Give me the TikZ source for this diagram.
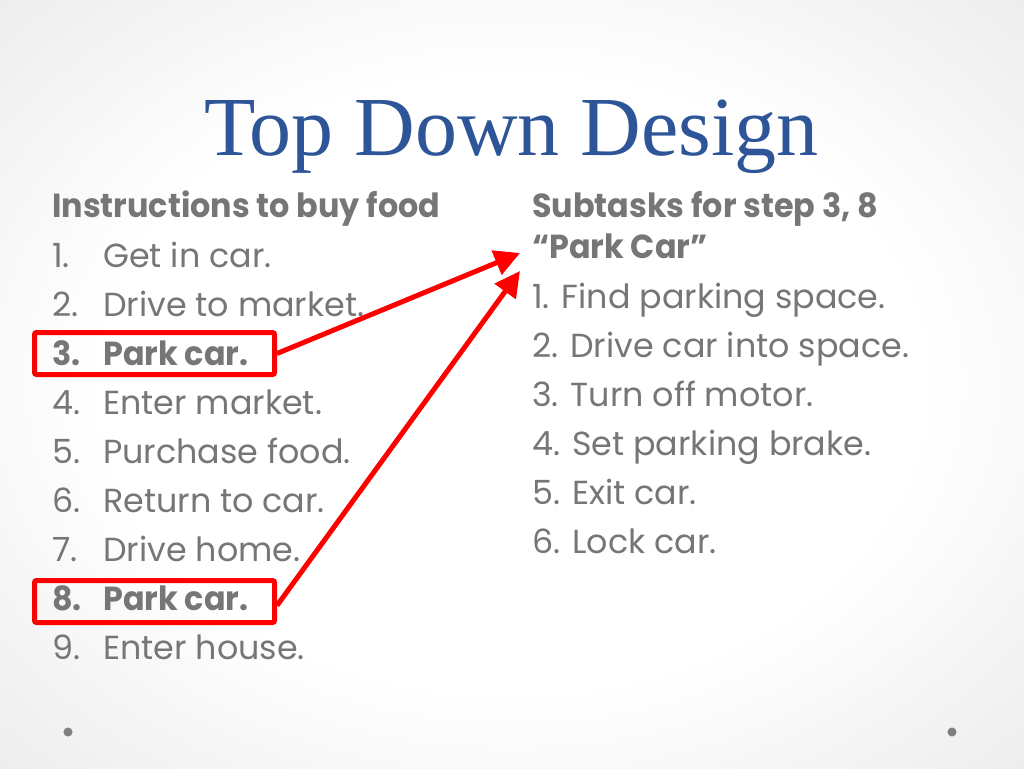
\documentclass[tikz,border=0pt]{standalone}
\usepackage{fontspec}
\setmainfont{Liberation Serif}
\newfontfamily\bodyfont[BoldFeatures={FakeStretch=0.955}]{Poppins}
\usetikzlibrary{arrows.meta}
\definecolor{titleblue}{HTML}{2E5597}
\definecolor{bodygray}{HTML}{767676}
\definecolor{arrowred}{HTML}{FF0000}
\definecolor{bggray}{HTML}{DCDCDC}
\definecolor{dotgray}{HTML}{7F7F7F}
\pgfdeclareradialshading{slidebg}{\pgfpoint{0bp}{0bp}}{color(0bp)=(white); color(20bp)=(white); color(50bp)=(bggray)}
\tikzset{
  bodytext/.style={font=\bodyfont\fontsize{25}{29}\selectfont, text=bodygray, anchor=base west, inner sep=0pt},
  headtext/.style={font=\bodyfont\bfseries\fontsize{25}{29}\selectfont, text=bodygray, anchor=base west, inner sep=0pt},
  titletext/.style={font=\fontsize{63}{70}\selectfont, text=titleblue, anchor=base, inner sep=0pt},
  redbox/.style={draw=arrowred, line width=3.75pt, rounded corners=1.5pt, minimum width=180pt, minimum height=31.5pt, inner sep=0pt},
  redarrow/.style={draw=arrowred, line width=3.75pt, -{Triangle[length=19pt,width=19pt]}}
}
\begin{document}
\begin{tikzpicture}[x=0.75pt,y=-0.75pt]
\useasboundingbox (0,0) rectangle (1024,768);
\shade[shading=slidebg] (0,0) rectangle (1024,768);
% title
\node[titletext] (title) at (511.5,155) {Top Down Design};
% left column
\node[headtext] (lhead) at (52,217) {Instructions to buy food};
\node[bodytext] (ln1) at (52,267) {1.};  \node[bodytext] (lt1) at (103,267) {Get in car.};
\node[bodytext] (ln2) at (52,316) {2.};  \node[bodytext] (lt2) at (103,316) {Drive to market.};
\node[headtext] (ln3) at (52,365) {3.};  \node[headtext] (lt3) at (103,365) {Park car.};
\node[bodytext] (ln4) at (52,414) {4.};  \node[bodytext] (lt4) at (103,414) {Enter market.};
\node[bodytext] (ln5) at (52,463) {5.};  \node[bodytext] (lt5) at (103,463) {Purchase food.};
\node[bodytext] (ln6) at (52,512) {6.};  \node[bodytext] (lt6) at (103,512) {Return to car.};
\node[bodytext] (ln7) at (52,561) {7.};  \node[bodytext] (lt7) at (103,561) {Drive home.};
\node[headtext] (ln8) at (52,610) {8.};  \node[headtext] (lt8) at (103,610) {Park car.};
\node[bodytext] (ln9) at (52,659) {9.};  \node[bodytext] (lt9) at (103,659) {Enter house.};
% right column
\node[headtext] (rhead1) at (532,217) {Subtasks for step 3, 8};
\node[headtext] (rhead2) at (532,258) {“Park Car”};
\node[bodytext] (r1) at (532,308) {1. Find parking space.};
\node[bodytext] (r2) at (532,357) {2. Drive car into space.};
\node[bodytext] (r3) at (532,406) {3. Turn off motor.};
\node[bodytext] (r4) at (532,455) {4. Set parking brake.};
\node[bodytext] (r5) at (532,504) {5. Exit car.};
\node[bodytext] (r6) at (532,553) {6. Lock car.};
% red boxes and arrows
\node[redbox] (box1) at (154.5,353.5) {};
\node[redbox] (box2) at (154.5,601.5) {};
\coordinate (tip1) at (520,253);
\coordinate (tip2) at (520,271);
\draw[redarrow] (box1.east) -- (tip1);
\draw[redarrow] ([yshift=-3pt]box2.east) -- (tip2);
% corner dots
\fill[dotgray] (68,732) circle[radius=3.4pt];
\fill[dotgray] (952,732) circle[radius=3.4pt];
\end{tikzpicture}
\end{document}
